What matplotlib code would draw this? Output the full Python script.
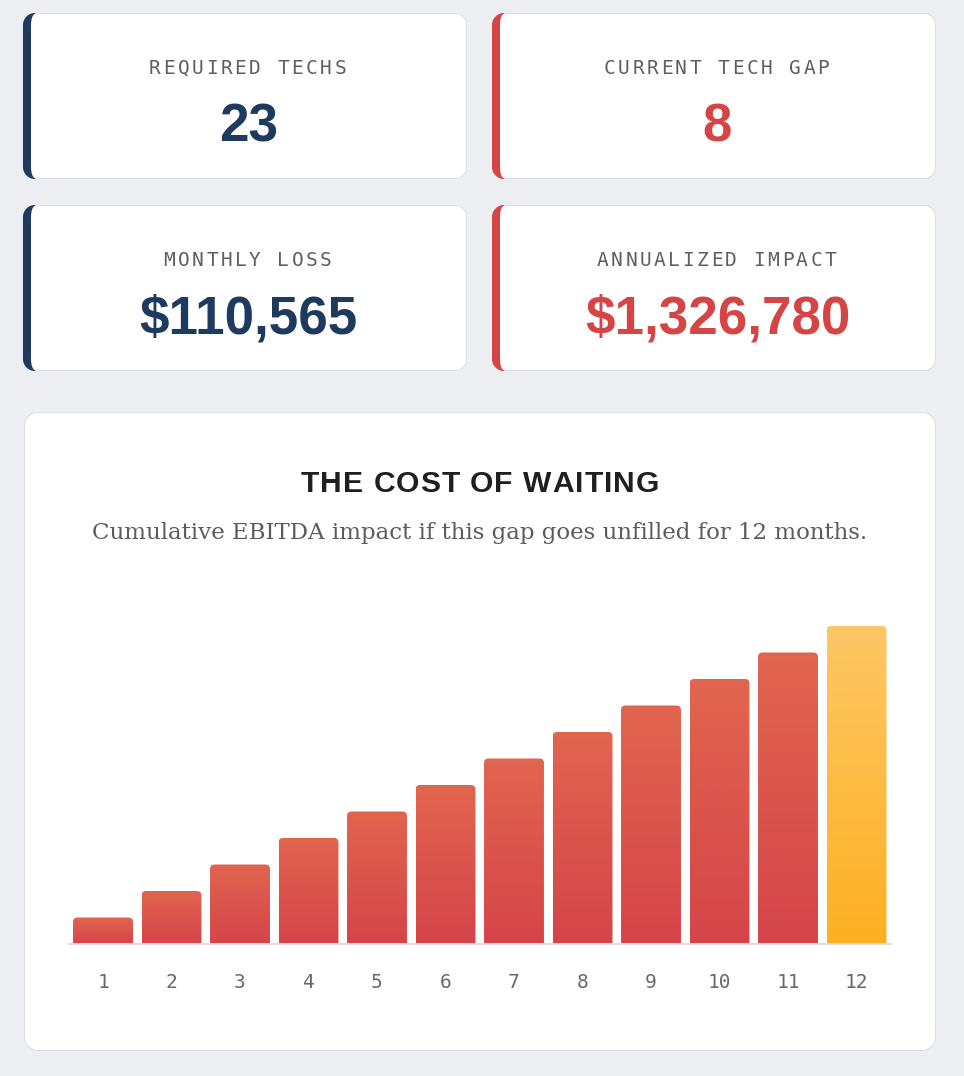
import numpy as np
import matplotlib
matplotlib.use("Agg")
import matplotlib.pyplot as plt
from matplotlib.path import Path
from matplotlib.patches import PathPatch, Rectangle, FancyBboxPatch
from matplotlib.font_manager import FontProperties, findfont
from matplotlib.ft2font import FT2Font
from matplotlib.colors import to_rgb

# ---------------- data ----------------
kpi_labels = ["REQUIRED TECHS", "CURRENT TECH GAP", "MONTHLY LOSS", "ANNUALIZED IMPACT"]
kpi_values = ["23", "8", "$110,565", "$1,326,780"]
months = [1, 2, 3, 4, 5, 6, 7, 8, 9, 10, 11, 12]
month_labels = ["1", "2", "3", "4", "5", "6", "7", "8", "9", "10", "11", "12"]
cumulative_loss = [110565, 221130, 331695, 442260, 552825, 663390,
                   773955, 884520, 995085, 1105650, 1216215, 1326780]
highlight_month = 12
chart_title = "THE COST OF WAITING"
chart_subtitle = "Cumulative EBITDA impact if this gap goes unfilled for 12 months."

# ---------------- style ----------------
W, H, DPI = 964, 1076, 100
BG = "#eceef1"
CARD_EDGE = "#dcdfe3"
NAVY = "#1e3a5f"
RED = "#d64545"
LABEL_C = "#5c5f66"
TITLE_C = "#1f1f22"
SUB_C = "#5b5b60"
TICK_C = "#66686e"
RED_TOP, RED_BOT = "#e1654f", "#d5444a"
GOLD_TOP, GOLD_BOT = "#fec766", "#fdb022"
kpi_colors = [NAVY, RED, NAVY, RED]


def px2pt(px):
    return px * 72.0 / DPI


fig = plt.figure(figsize=(W / DPI, H / DPI), dpi=DPI)
fig.patch.set_facecolor(BG)
bg = fig.add_axes([0, 0, 1, 1])
bg.set_xlim(0, W)
bg.set_ylim(H, 0)
bg.axis("off")

K = 0.5523


def rrect(x0, y0, x1, y1, tl, tr, br, bl):
    verts, codes = [], []

    def M(p):
        verts.append(p); codes.append(Path.MOVETO)

    def L(p):
        verts.append(p); codes.append(Path.LINETO)

    def C(p1, p2, p3):
        verts.extend([p1, p2, p3]); codes.extend([Path.CURVE4] * 3)

    rx, ry = tl
    M((x0 + rx, y0))
    rx2, ry2 = tr
    L((x1 - rx2, y0))
    C((x1 - rx2 + K * rx2, y0), (x1, y0 + ry2 - K * ry2), (x1, y0 + ry2))
    rx3, ry3 = br
    L((x1, y1 - ry3))
    C((x1, y1 - ry3 + K * ry3), (x1 - rx3 + K * rx3, y1), (x1 - rx3, y1))
    rx4, ry4 = bl
    L((x0 + rx4, y1))
    C((x0 + rx4 - K * rx4, y1), (x0, y1 - ry4 + K * ry4), (x0, y1 - ry4))
    L((x0, y0 + ry))
    C((x0, y0 + ry - K * ry), (x0 + rx - K * rx, y0), (x0 + rx, y0))
    verts.append((x0 + rx, y0)); codes.append(Path.CLOSEPOLY)
    return Path(verts, codes)


def card(x0, y0, x1, y1, R, accent=None, bw=8):
    outer = rrect(x0, y0, x1, y1, (R, R), (R, R), (R, R), (R, R))
    bg.add_patch(PathPatch(outer, fc=CARD_EDGE, ec="none", lw=0))
    if accent:
        p = PathPatch(outer, fc=accent, ec="none", lw=0)
        bg.add_patch(p)
        clip = Rectangle((x0 - 1, y0 - 1), R + 1, (y1 - y0) + 2, transform=bg.transData)
        p.set_clip_path(clip)
        lb = bw
    else:
        lb = 1
    rl = max(R - lb, 0.5)
    inner = rrect(x0 + lb, y0 + 1, x1 - 1, y1 - 1,
                  (rl, R - 1), (R - 1, R - 1), (R - 1, R - 1), (rl, R - 1))
    bg.add_patch(PathPatch(inner, fc="white", ec="none", lw=0))
    return (x0 + lb + x1 - 1) / 2.0


def advances(s, fp):
    f = FT2Font(findfont(fp))
    f.set_size(fp.get_size_in_points(), DPI)
    return [f.load_char(ord(c)).linearHoriAdvance / 65536.0 for c in s]


def spaced_text(xc, yb, s, fp, sp, color):
    adv = advances(s, fp)
    total = sum(adv) + sp * (len(s) - 1)
    x = xc - total / 2.0
    for c, a in zip(s, adv):
        if c != " ":
            bg.text(x, yb, c, fontproperties=fp, color=color, ha="left", va="baseline")
        x += a + sp


fp_label = FontProperties(family="DejaVu Sans Mono", size=px2pt(19.5))
fp_value = FontProperties(family="Liberation Sans", weight="bold", size=px2pt(53))
fp_title = FontProperties(family="Liberation Sans", weight="bold", size=px2pt(30))
fp_tick = FontProperties(family="DejaVu Sans Mono", size=px2pt(19.5))

# ---------------- KPI cards ----------------
card_boxes = [(23, 13, 467, 179), (492, 13, 936, 179),
              (23, 205, 467, 371), (492, 205, 936, 371)]
for (x0, y0, x1, y1), lab, val, col in zip(card_boxes, kpi_labels, kpi_values, kpi_colors):
    cx = card(x0, y0, x1, y1, 12, accent=col)
    spaced_text(cx - 1, y0 + 61, lab, fp_label, 2.5, LABEL_C)
    bg.text(cx, y0 + 128, val, fontproperties=fp_value, color=col, ha="center", va="baseline")

# ---------------- chart card ----------------
ccx = card(24, 412, 936, 1051, 14)
spaced_text(480, 492, chart_title, fp_title, 1.0, TITLE_C)

fp_sub0 = FontProperties(family="DejaVu Serif", size=12)
w0 = sum(advances(chart_subtitle, fp_sub0))
fp_sub = FontProperties(family="DejaVu Serif", size=12 * 773.0 / w0)
bg.text(480, 539.5, chart_subtitle, fontproperties=fp_sub, color=SUB_C, ha="center", va="baseline")

# ---------------- bar chart ----------------
ax_l, ax_r, ax_t, ax_b = 68.75, 890.75, 600.0, 944.0
ax = fig.add_axes([ax_l / W, (H - ax_b) / H, (ax_r - ax_l) / W, (ax_b - ax_t) / H])
ax.set_facecolor("none")
bars = ax.bar(months, cumulative_loss, width=0.875, color="none", linewidth=0)
ymax = cumulative_loss[-1] * (ax_b - ax_t) / 318.0

px_per_x = (ax_r - ax_l) / 12.0
px_per_y = (ax_b - ax_t) / ymax
rx = 4.5 / px_per_x
ry = 4.5 / px_per_y
for m, b in zip(months, bars):
    x, w, h = b.get_x(), b.get_width(), b.get_height()
    top, bot = (GOLD_TOP, GOLD_BOT) if m == highlight_month else (RED_TOP, RED_BOT)
    grad = np.linspace(np.array(to_rgb(top)), np.array(to_rgb(bot)), 256)[:, None, :]
    patch = FancyBboxPatch((x, -2 * ry), w, h + 2 * ry,
                           boxstyle=f"round,pad=0,rounding_size={rx}",
                           mutation_aspect=ry / rx, transform=ax.transData,
                           fc="none", ec="none")
    ax.add_patch(patch)
    im = ax.imshow(grad, extent=[x, x + w, 0, h], aspect="auto", origin="upper",
                   zorder=2, interpolation="bilinear")
    im.set_clip_path(patch)

ax.set_xlim(0.5, 12.5)
ax.set_ylim(0, ymax)
for s in ["left", "top", "right"]:
    ax.spines[s].set_visible(False)
ax.spines["bottom"].set_color("#dcdde0")
ax.spines["bottom"].set_linewidth(px2pt(2))
ax.spines["bottom"].set_zorder(3)
ax.set_yticks([])
ax.set_xticks(months)
ax.set_xticklabels(month_labels, fontproperties=fp_tick)
ax.tick_params(axis="x", length=0, pad=px2pt(28.5), labelcolor=TICK_C)

fig.savefig("out.png", dpi=DPI, facecolor=BG)
